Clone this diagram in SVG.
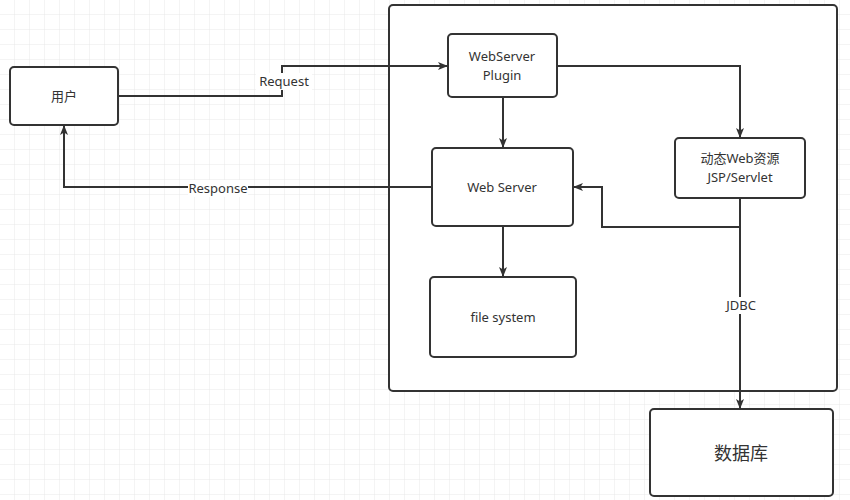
<svg xmlns="http://www.w3.org/2000/svg" width="850" height="500" viewBox="0 0 850 500">
<defs>
<pattern id="g" width="15" height="15" patternUnits="userSpaceOnUse"><path d="M15 0V15H0" fill="none" stroke="#e8e8e8" stroke-width="1"/></pattern>
<marker id="a" markerWidth="10" markerHeight="10" refX="9" refY="5" orient="auto" markerUnits="userSpaceOnUse"><path d="M0 1L10 5L0 9L2.5 5Z" fill="#333"/></marker>
</defs>
<style>
.n{fill:#fff;stroke:#333;stroke-width:2}
.t{font-family:"Noto Sans","Noto Sans CJK SC",sans-serif;font-size:13px;fill:#333;text-anchor:middle}
.c{fill:none;stroke:#333;stroke-width:2;marker-end:url(#a)}
.l{font-family:"Noto Sans",sans-serif;font-size:13px;fill:#333;text-anchor:middle}
</style>
<rect width="850" height="500" fill="#fff"/>
<rect width="850" height="500" fill="url(#g)"/>
<g id="container"><rect x="389" y="5" width="448" height="386" rx="4" class="n"/></g>
<g id="user"><rect x="10" y="67" width="108" height="58" rx="4" class="n"/><text x="64" y="101" class="t">用户</text></g>
<g id="plugin"><rect x="448" y="34" width="109" height="63" rx="4" class="n"/><text x="502" y="61" class="t">WebServer</text><text x="502" y="80" class="t">Plugin</text></g>
<g id="webserver"><rect x="432" y="148" width="141" height="78" rx="4" class="n"/><text x="502" y="192" class="t">Web Server</text></g>
<g id="fs"><rect x="430" y="277" width="146" height="80" rx="4" class="n"/><text x="503" y="322" class="t">file system</text></g>
<g id="dyn"><rect x="675" y="138" width="130" height="60" rx="4" class="n"/><text x="740" y="163" class="t">动态Web资源</text><text x="740" y="182" class="t">JSP/Servlet</text></g>
<g id="db"><rect x="650" y="409" width="183" height="87" rx="4" class="n"/><text x="741" y="460" class="t" style="font-size:18px">数据库</text></g>
<g id="connectors">
<path d="M118 96H282V66H447" class="c"/>
<path d="M557 66H740V137" class="c"/>
<path d="M503 97V147" class="c"/>
<path d="M432 187H64V126" class="c"/>
<path d="M503 226V276" class="c"/>
<path d="M740 198V227H602V187H574" class="c"/>
<path d="M740 198V408" class="c"/>
<rect x="256" y="73" width="56" height="17" fill="#fff"/>
<text x="284" y="86" class="l">Request</text>
<rect x="188" y="180" width="60" height="17" fill="#fff"/>
<text x="218" y="193" class="l">Response</text>
<rect x="722" y="297" width="38" height="17" fill="#fff"/>
<text x="741" y="310" class="l">JDBC</text>
</g>
</svg>
